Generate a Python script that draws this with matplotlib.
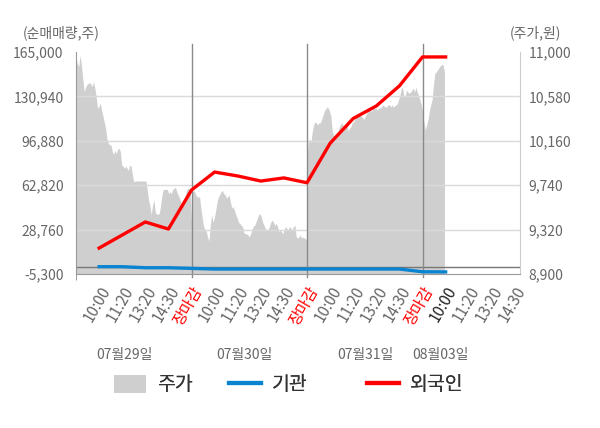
import numpy as np
import matplotlib.pyplot as plt
from matplotlib.patches import Patch
from matplotlib.lines import Line2D

plt.rcParams['font.family'] = ['Noto Sans CJK KR', 'DejaVu Sans']

# intraday price (원), one list per trading day
price_0729 = [10940, 10890, 10860, 10970, 10880, 10750, 10630, 10660, 10690, 10700,
              10710, 10700, 10670, 10720, 10660, 10580, 10470, 10480, 10520, 10450,
              10400, 10340, 10280, 10180, 10140, 10120, 10120, 10060, 10030, 10070,
              10040, 10080, 10090, 10060, 9930, 9920, 9900, 9920, 9900, 9880,
              9930, 9920, 9840, 9770, 9780, 9780, 9780, 9780, 9780, 9780,
              9780, 9780, 9780, 9700, 9600, 9550, 9460, 9550, 9600, 9490,
              9460, 9470, 9470, 9550, 9650, 9700, 9700, 9700, 9700, 9660,
              9680, 9660, 9700, 9710, 9720, 9680, 9650, 9620, 9580, 9550,
              9580, 9620, 9680, 9710, 9710, 9680, 9400]
price_0730 = [9710, 9680, 9690, 9660, 9630, 9630, 9630, 9520, 9430, 9350,
              9320, 9300, 9250, 9210, 9360, 9460, 9390, 9430, 9500, 9580,
              9630, 9650, 9680, 9690, 9660, 9650, 9620, 9630, 9650, 9580,
              9520, 9540, 9500, 9460, 9430, 9390, 9380, 9360, 9350, 9290,
              9280, 9280, 9270, 9250, 9280, 9320, 9350, 9360, 9390, 9430,
              9460, 9470, 9440, 9390, 9360, 9330, 9320, 9320, 9350, 9390,
              9410, 9390, 9360, 9380, 9350, 9300, 9320, 9300, 9280, 9320,
              9350, 9330, 9320, 9350, 9330, 9320, 9350, 9360, 9250, 9240,
              9250, 9270, 9240, 9250, 9240, 9230, 9230]
price_0731 = [10000, 10150, 10180, 10150, 10250, 10310, 10340, 10330, 10310, 10330,
              10330, 10360, 10400, 10440, 10460, 10480, 10470, 10440, 10390, 10250,
              10210, 10210, 10180, 10210, 10280, 10310, 10330, 10310, 10280, 10290,
              10310, 10250, 10280, 10290, 10330, 10340, 10360, 10390, 10400, 10390,
              10400, 10390, 10380, 10360, 10400, 10420, 10440, 10450, 10440, 10450,
              10470, 10460, 10470, 10450, 10470, 10470, 10480, 10500, 10490, 10480,
              10480, 10500, 10500, 10480, 10500, 10480, 10490, 10500, 10510, 10550,
              10590, 10660, 10660, 10580, 10590, 10640, 10620, 10610, 10620, 10640,
              10660, 10620, 10670, 10620, 10590, 10550, 10500, 10440]
price_0803 = [10420, 10340, 10260, 10310, 10360, 10440, 10500, 10550, 10690, 10800,
              10810, 10830, 10850, 10870, 10880, 10880, 10810]

# net buying (주) at each time label
foreign = [14600, 24600, 34600, 29200, 59100, 72900, 69900, 66000, 68400, 64700,
           95000, 114000, 123600, 139000, 161200, 161200]
inst = [300, 300, -500, -500, -1000, -1500, -1500, -1500, -1500, -1500,
        -1500, -1500, -1500, -1500, -3600, -3700]

time_labels = ['10:00', '11:20', '13:20', '14:30', '장마감'] * 3 + ['10:00', '11:20', '13:20', '14:30']
dates = ['07월29일', '07월30일', '07월31일', '08월03일']
date_pos = [2.09, 7.28, 12.51, 15.76]

left_ticks = [-5300, 28760, 62820, 96880, 130940, 165000]
right_ticks = [8900, 9320, 9740, 10160, 10580, 11000]

fig = plt.figure(figsize=(6, 4.28), dpi=100)
ax = fig.add_axes([76/600, 1 - 274/428, 444/600, 222/428])
ax2 = ax.twinx()
ax.set_zorder(ax2.get_zorder() + 1)
ax.patch.set_visible(False)
ax2.set_facecolor('#f4f4f4')

# price area
days = [price_0729, price_0730, price_0731]
xs, ys = [], []
for d, p in enumerate(days):
    xs.append(np.linspace(d * 5, d * 5 + 5, len(p)))
    ys.append(p)
xs.append(np.linspace(15, 15.95, len(price_0803)))
ys.append(price_0803)
xp = np.concatenate(xs)
yp = np.concatenate(ys)
ax2.fill_between(xp, yp, 8900, color='#cfcfcf', lw=0)
ax2.set_ylim(8900, 11000)
ax2.set_yticks(right_ticks)
ax2.set_yticklabels([f'{v:,}' for v in right_ticks])

# grid, separators
for v in left_ticks[1:-1]:
    ax.axhline(v, color='#dadada', lw=1, zorder=1)
ax.axhline(0, color='#777777', lw=1, zorder=2)
for s in [5, 10, 15]:
    ax.axvline(s, ymin=-0.015, ymax=1.035, color='#8a8a8a', lw=1, clip_on=False, zorder=2)

xl = np.arange(1, len(foreign) + 1)
ax.plot(xl, inst, color='#0a84d0', lw=2.4, zorder=3)
ax.plot(xl, foreign, color='#ff0000', lw=2.4, zorder=4)

ax.set_ylim(-5300, 165000)
ax.set_xlim(0, 19.22)
ax.set_yticks(left_ticks)
ax.set_yticklabels([f'{v:,}' for v in left_ticks])

ax.set_xticks(np.arange(1, len(time_labels) + 1))
ax.set_xticklabels(time_labels, rotation=60, ha='right', va='top', rotation_mode='anchor')
for i, t in enumerate(ax.get_xticklabels()):
    if time_labels[i] == '장마감':
        t.set_color('#ff0000')
    elif i == 15:
        t.set_color('#222222')
    else:
        t.set_color('#666666')
ax.set_xticks([0, 5, 10, 15], minor=True)
ax.tick_params(axis='x', which='major', length=0, labelsize=11, pad=7)
ax.tick_params(axis='x', which='minor', length=4, color='#8a8a8a')
ax.tick_params(axis='y', length=0, labelsize=10, labelcolor='#666666', pad=9)
ax2.tick_params(axis='y', length=0, labelsize=10, labelcolor='#666666', pad=6)

for sp in ['top', 'right']:
    ax.spines[sp].set_visible(False)
ax.spines['left'].set_color('#999999')
ax.spines['bottom'].set_color('#999999')
for sp in ['top', 'left', 'bottom']:
    ax2.spines[sp].set_visible(False)
ax2.spines['right'].set_color('#cccccc')

for pos, d in zip(date_pos, dates):
    ax.text(pos, -0.365, d, transform=ax.get_xaxis_transform(), ha='center', va='center',
            fontsize=10, color='#666666')

fig.text(61/600, 1 - 33/428, '(순매매량,주)', ha='center', va='center', fontsize=10, color='#666666')
fig.text(535/600, 1 - 33/428, '(주가,원)', ha='center', va='center', fontsize=10, color='#666666')

# legend, one entry at a time
handles = [Patch(facecolor='#cfcfcf', edgecolor='none'),
           Line2D([], [], color='#0a84d0', lw=3),
           Line2D([], [], color='#ff0000', lw=3)]
names = ['주가', '기관', '외국인']
leg_x = [114, 229, 367]
for h, n, lx in zip(handles, names, leg_x):
    lg = fig.legend([h], [n], loc='center left', bbox_to_anchor=(lx/600, 1 - 385/428),
                    frameon=False, fontsize=14, handlelength=1.65, handleheight=1.0,
                    handletextpad=0.55, borderpad=0, borderaxespad=0, labelcolor='#333333')
    fig.add_artist(lg)

fig.savefig('out.png', dpi=100)
